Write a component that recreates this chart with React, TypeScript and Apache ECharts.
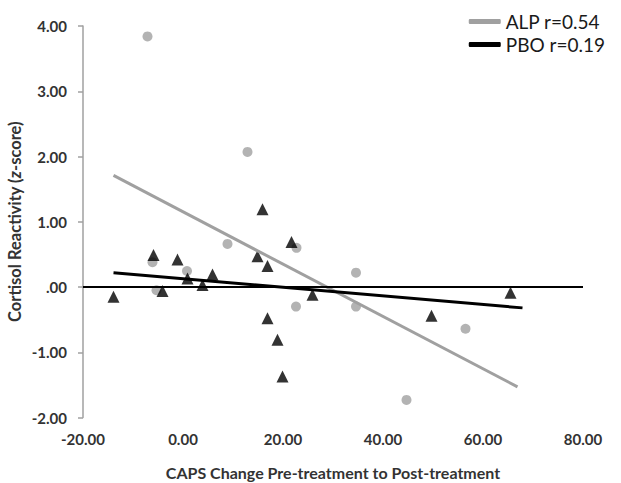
import React, { useEffect, useRef } from "react";
import * as echarts from "echarts";

// ALP group (gray circles): [CAPS change, cortisol z]
const alpPoints: number[][] = [
  [-7.1, 3.84],
  [12.9, 2.07],
  [8.9, 0.66],
  [22.7, 0.6],
  [-6.1, 0.38],
  [0.8, 0.245],
  [-5.3, -0.05],
  [22.6, -0.3],
  [34.6, 0.22],
  [34.6, -0.3],
  [56.5, -0.64],
  [44.7, -1.73],
];

// PBO group (black triangles)
const pboPoints: number[][] = [
  [-13.9, -0.15],
  [-5.9, 0.49],
  [-1.1, 0.42],
  [-4.1, -0.06],
  [0.9, 0.13],
  [3.9, 0.03],
  [5.9, 0.19],
  [14.9, 0.47],
  [16.9, 0.32],
  [21.7, 0.69],
  [15.9, 1.19],
  [16.9, -0.48],
  [18.9, -0.81],
  [19.9, -1.37],
  [25.9, -0.12],
  [49.7, -0.44],
  [65.5, -0.09],
];

// Trend lines (end points)
const alpTrend: number[][] = [
  [-13.9, 1.71],
  [66.9, -1.53],
];
const pboTrend: number[][] = [
  [-13.9, 0.22],
  [67.9, -0.32],
];

const legendNames = ["ALP r=0.54", "PBO r=0.19"];
const xTitle = "CAPS Change Pre-treatment to Post-treatment";

export default function App() {
  const ref = useRef<HTMLDivElement>(null);
  useEffect(() => {
    if (!ref.current) return;
    const chart = echarts.init(ref.current, undefined, { renderer: "svg" });
    const font = "Lato, 'Open Sans', sans-serif";
    chart.setOption({
      animation: false,
      backgroundColor: "#ffffff",
      textStyle: { fontFamily: font },
      grid: {
        left: 83,
        right: 38,
        top: 26,
        bottom: 65.5,
        containLabel: false,
        outerBoundsMode: "none",
      },
      legend: {
        orient: "vertical",
        right: 11,
        top: 7,
        itemWidth: 32,
        itemHeight: 5,
        itemGap: 4,
        textStyle: { fontFamily: font, fontSize: 19, color: "#1a1a1a" },
        data: [
          { name: legendNames[0], icon: "roundRect" },
          { name: legendNames[1], icon: "roundRect" },
        ],
      },
      xAxis: {
        type: "value",
        min: -20,
        max: 80,
        interval: 20,
        name: xTitle,
        nameLocation: "middle",
        nameGap: 47,
        nameMoveOverlap: false,
        nameTextStyle: { fontFamily: font, fontSize: 16, fontWeight: "bold", color: "#333" },
        axisLine: { show: false, onZero: false },
        axisTick: { show: false },
        splitLine: { show: false },
        axisLabel: {
          margin: 14,
          fontFamily: font,
          fontSize: 15,
          fontWeight: "bold",
          color: "#333",
          formatter: (v: number) => v.toFixed(2),
        },
      },
      yAxis: {
        type: "value",
        min: -2,
        max: 4,
        interval: 1,
        name: "{a|Cortisol Reactivity (}{b|z}{a|-score)}",
        nameLocation: "middle",
        nameGap: 60,
        nameRotate: 90,
        nameMoveOverlap: false,
        nameTextStyle: {
          rich: {
            a: { fontFamily: font, fontSize: 16.5, fontWeight: "bold", color: "#333" },
            b: { fontFamily: font, fontSize: 16.5, fontWeight: "bold", fontStyle: "italic", color: "#333" },
          },
        },
        axisLine: { show: true, onZero: false, lineStyle: { color: "#a0a0a0", width: 1.5 } },
        axisTick: { show: true, length: 5, lineStyle: { color: "#a0a0a0", width: 1.5 } },
        splitLine: { show: false },
        axisLabel: {
          margin: 16,
          fontFamily: font,
          fontSize: 15,
          fontWeight: "bold",
          color: "#333",
          formatter: (v: number) => (v === 0 ? ".00" : v.toFixed(2)),
        },
      },
      series: [
        {
          name: "ALP points",
          type: "scatter",
          data: alpPoints,
          symbol: "circle",
          symbolSize: 10,
          itemStyle: { color: "#a0a0a0" },
          z: 2,
          markLine: {
            silent: true,
            symbol: "none",
            label: { show: false },
            lineStyle: { color: "#000", width: 2, type: "solid" },
            data: [{ yAxis: 0 }],
          },
        },
        {
          name: "PBO points",
          type: "scatter",
          data: pboPoints,
          symbol: "triangle",
          symbolSize: 12,
          itemStyle: { color: "#000" },
          z: 3,
        },
        {
          name: legendNames[0],
          type: "line",
          data: alpTrend,
          showSymbol: false,
          symbol: "none",
          lineStyle: { color: "#a0a0a0", width: 3 },
          itemStyle: { color: "#a0a0a0" },
          z: 4,
        },
        {
          name: legendNames[1],
          type: "line",
          data: pboTrend,
          showSymbol: false,
          symbol: "none",
          lineStyle: { color: "#000", width: 3 },
          itemStyle: { color: "#000" },
          z: 5,
        },
      ],
    });
    return () => chart.dispose();
  }, []);
  return <div ref={ref} style={{ width: 621, height: 483, position: "absolute", left: 0, top: 0 }} />;
}
